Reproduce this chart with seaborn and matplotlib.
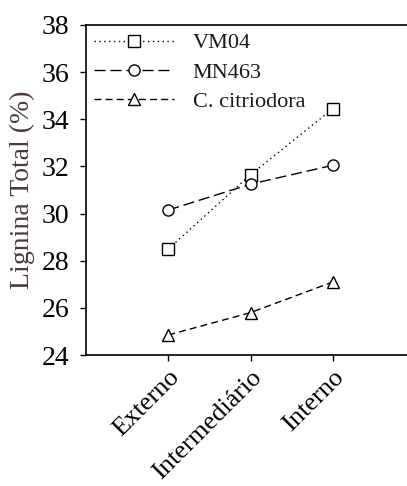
import matplotlib
matplotlib.use("Agg")
import matplotlib.pyplot as plt
import seaborn as sns
import pandas as pd

positions = ["Externo", "Intermediário", "Interno"]
series_names = ["VM04", "MN463", "C. citriodora"]
vm04 = [28.5, 31.65, 34.45]
mn463 = [30.15, 31.25, 32.05]
citriodora = [24.85, 25.8, 27.1]
y_ticks = [24, 26, 28, 30, 32, 34, 36, 38]

rows = []
for name, vals in zip(series_names, [vm04, mn463, citriodora]):
    for p, v in zip(positions, vals):
        rows.append({"Posição": p, "Lignina": v, "Clone": name})
df = pd.DataFrame(rows)

sns.set_style("ticks")
plt.rcParams["font.family"] = ["Liberation Serif", "DejaVu Serif"]

fig = plt.figure(figsize=(4.07, 4.86), dpi=100)
ax = fig.add_axes([0.2113, 0.2695, 0.7887, 0.6791])

dashes = {"VM04": (1, 2.5), "MN463": (8, 3.5), "C. citriodora": (5, 3)}
markers = {"VM04": "s", "MN463": "o", "C. citriodora": "^"}
sns.lineplot(data=df, x="Posição", y="Lignina", hue="Clone", style="Clone",
             hue_order=series_names, style_order=series_names,
             palette=["black"] * 3, dashes=dashes, markers=markers,
             markersize=8, markerfacecolor="white", markeredgecolor="black",
             markeredgewidth=1, linewidth=1, ax=ax, legend=True, sort=False)

ax.set_xlim(-1, 2.9)
ax.set_ylim(24, 38)
ax.set_yticks(y_ticks)
ax.set_xticks(range(len(positions)))
ax.set_xticklabels(positions, rotation=45, ha="right", rotation_mode="anchor")
ax.tick_params(axis="both", labelsize=20, length=4, width=1, colors="black", direction="out")
ax.tick_params(axis="x", labelsize=19, pad=4)
ax.tick_params(axis="y", pad=8)
ax.set_xlabel("")
ax.set_ylabel("Lignina Total (%)", fontsize=20, color="#4a3a3a", labelpad=5)

for s in ["left", "bottom", "top"]:
    ax.spines[s].set_visible(True)
    ax.spines[s].set_color("black")
    ax.spines[s].set_linewidth(1.2)
ax.spines["right"].set_visible(False)

handles, labels = ax.get_legend_handles_labels()
leg = ax.legend(handles, labels, loc="upper left", bbox_to_anchor=(0.0, 1.0),
                frameon=False, fontsize=16, handlelength=3.6, handletextpad=0.85,
                labelspacing=0.4, borderaxespad=0.15, borderpad=0.2)
for t in leg.get_texts():
    t.set_color("#1a1a1a")

fig.savefig("out.png", dpi=100)
